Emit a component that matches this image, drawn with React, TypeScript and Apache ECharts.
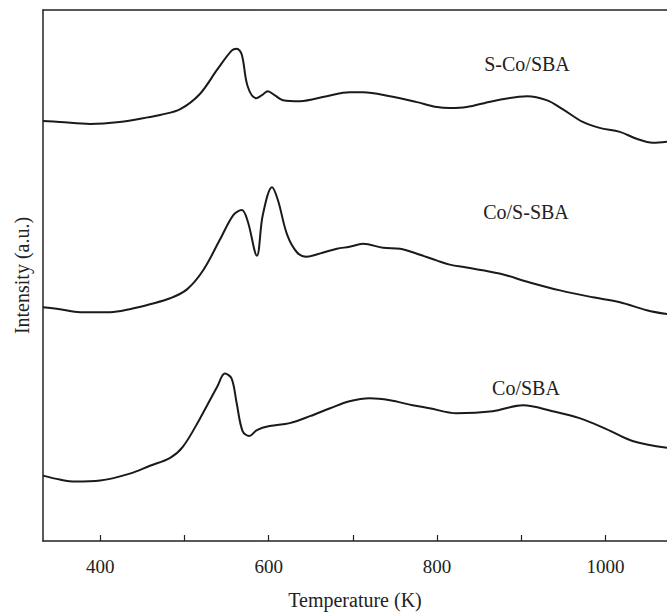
import React, { useEffect, useRef } from "react";
import * as echarts from "echarts";

// Temperature (K) sample points for each trace
const tempSCo = [332, 352, 388, 423, 459, 471, 495, 518, 539, 556, 562, 568, 575, 585, 592, 599, 607, 617, 637, 669, 696, 712, 744, 776, 800, 815, 835, 866, 907, 930, 949, 973, 993, 1017, 1037, 1056, 1073];
const intSCo = [424, 423, 421, 423, 428, 430, 436, 451, 476, 495, 497, 491, 459, 447, 450, 454, 450, 445, 444, 449, 453, 453, 449, 443, 438, 437, 438, 444, 449, 445, 436, 423, 417, 413, 406, 402, 403];

const tempCoS = [332, 352, 376, 412, 435, 459, 483, 503, 522, 542, 558, 568, 575, 586, 593, 604, 611, 622, 634, 645, 664, 681, 696, 712, 736, 756, 776, 800, 815, 835, 874, 910, 946, 985, 1017, 1049, 1073];
const intCoS = [236, 234, 231, 231, 234, 239, 245, 254, 273, 304, 329, 334, 323, 288, 329, 357, 344, 309, 291, 287, 291, 295, 297, 300, 296, 295, 290, 283, 279, 276, 270, 261, 253, 246, 241, 233, 229];

const tempCo = [332, 352, 370, 400, 435, 459, 483, 498, 518, 539, 548, 556, 562, 569, 577, 586, 601, 625, 649, 673, 696, 720, 744, 771, 791, 823, 866, 902, 937, 969, 1001, 1032, 1073];
const intCo = [66, 62, 60, 61, 68, 76, 84, 95, 123, 156, 169, 164, 139, 111, 106, 112, 116, 119, 126, 134, 141, 144, 142, 137, 134, 129, 131, 137, 131, 124, 113, 101, 94];

const seriesNames = ["S-Co/SBA", "Co/S-SBA", "Co/SBA"];
const tickValues = [400, 500, 600, 700, 800, 900, 1000];
const labelValues = [400, 600, 800, 1000];

const zip = (xs: number[], ys: number[]) => xs.map((x, i) => [x, ys[i]]);

export default function App() {
  const ref = useRef<HTMLDivElement>(null);
  useEffect(() => {
    document.body.style.margin = "0";
    const chart = echarts.init(ref.current!, null, { renderer: "svg" });
    const font = "Liberation Serif";
    const lineStyle = { color: "#1a1a1a", width: 2 };
    const labelStyle = (text: string, x: number, y: number) => ({
      type: "text",
      x,
      y,
      style: { text, font: `20px "${font}"`, fill: "#222", textAlign: "center", textVerticalAlign: "middle" },
    });
    chart.setOption({
      animation: false,
      grid: { left: 43, top: 10, right: 0, bottom: 69 },
      xAxis: [
        {
          type: "value",
          min: 332,
          max: 1073,
          name: "Temperature (K)",
          nameLocation: "middle",
          nameGap: 49,
          nameTextStyle: { fontFamily: font, fontSize: 20, color: "#222" },
          axisLine: { show: true, lineStyle: { color: "#222", width: 1.5 } },
          axisTick: { show: true, inside: true, length: 6, customValues: tickValues, lineStyle: { color: "#222", width: 1.2 } },
          axisLabel: {
            customValues: labelValues,
            margin: 16,
            fontFamily: font,
            fontSize: 19,
            color: "#222",
            formatter: (v: number) => String(v),
          },
          splitLine: { show: false },
        },
        {
          type: "value",
          position: "top",
          min: 332,
          max: 1073,
          axisLine: { show: true, lineStyle: { color: "#222", width: 1.5 } },
          axisTick: { show: false },
          axisLabel: { show: false },
          splitLine: { show: false },
        },
      ],
      yAxis: {
        type: "value",
        min: 0,
        max: 536,
        name: "Intensity (a.u.)",
        nameLocation: "middle",
        nameGap: 11,
        nameTextStyle: { fontFamily: font, fontSize: 20, color: "#222" },
        axisLine: { show: true, lineStyle: { color: "#222", width: 1.5 } },
        axisTick: { show: false },
        axisLabel: { show: false },
        splitLine: { show: false },
      },
      series: [
        { name: seriesNames[0], type: "line", data: zip(tempSCo, intSCo), showSymbol: false, smooth: 0.35, lineStyle },
        { name: seriesNames[1], type: "line", data: zip(tempCoS, intCoS), showSymbol: false, smooth: 0.35, lineStyle },
        { name: seriesNames[2], type: "line", data: zip(tempCo, intCo), showSymbol: false, smooth: 0.35, lineStyle },
      ],
      graphic: [
        labelStyle(seriesNames[0], 527, 64),
        labelStyle(seriesNames[1], 526, 212),
        labelStyle(seriesNames[2], 526, 388),
      ],
    });
    return () => chart.dispose();
  }, []);
  return <div ref={ref} style={{ width: 667, height: 615 }} />;
}
